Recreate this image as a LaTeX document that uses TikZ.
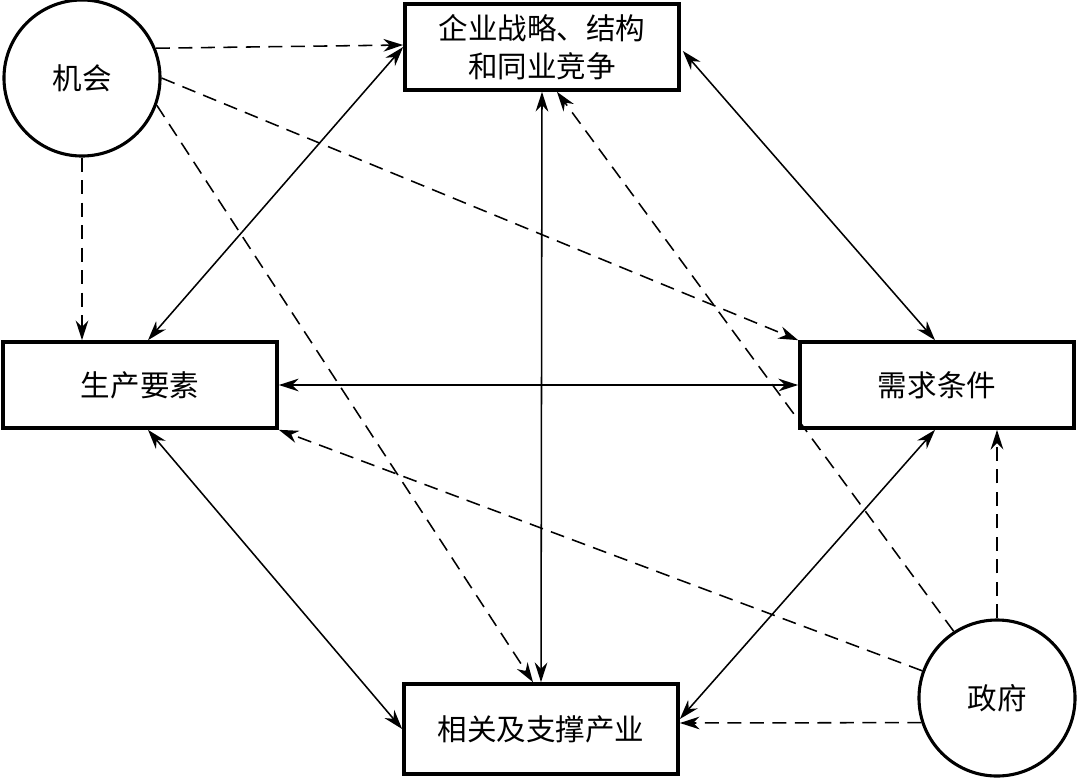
\documentclass[tikz,border=0pt]{standalone}
\usepackage{fontspec}
\setmainfont{Noto Sans CJK SC}
\usetikzlibrary{arrows.meta,calc}
\begin{document}
\begin{tikzpicture}[x=0.025cm,y=-0.025cm,
  box/.style={draw,line width=2.6pt,minimum width=6.85cm,minimum height=2.15cm,inner sep=0pt,align=center,font=\fontsize{21pt}{27pt}\selectfont},
  ring/.style={draw,circle,line width=2.2pt,minimum size=3.9cm,inner sep=0pt,font=\fontsize{21pt}{27pt}\selectfont},
  both/.style={line width=1.1pt,{Stealth[length=14pt,width=9pt,inset=4.5pt]}-{Stealth[length=14pt,width=9pt,inset=4.5pt]}},
  dashar/.style={line width=1.1pt,dash pattern=on 10pt off 6pt,-{Stealth[length=14pt,width=9pt,inset=4.5pt]}}]
\useasboundingbox (0,0) rectangle (1079,778);
\node[box] (T) at (542,47) {企业战略、结构\\和同业竞争};
\node[box] (L) at (140,385) {生产要素};
\node[box] (R) at (937,385) {需求条件};
\node[box,minimum height=2.25cm] (B) at (541,729) {相关及支撑产业};
\node[ring] (C) at (82,78) {机会};
\node[ring] (G) at (997,698) {政府};
% solid double arrows
\draw[both] ([xshift=8*0.025cm]L.north) -- (T.west);
\draw[both] (T.south) -- (B.north);
\draw[both] ([xshift=2*0.025cm,yshift=-4*0.025cm]T.east) -- ([xshift=-2*0.025cm]R.north);
\draw[both] (L.east) -- (R.west);
\draw[both] ([xshift=8*0.025cm]L.south) -- (B.west);
\draw[both] ([xshift=-2*0.025cm]R.south) -- ([yshift=10*0.025cm]B.east);
% dashed from chance
\draw[dashar] (C.22) -- ([yshift=2*0.025cm]T.west);
\draw[dashar] (C.east) -- (R.north west);
\draw[dashar] (C.-20) -- ([xshift=-8*0.025cm]B.north);
\draw[dashar] (C.south) -- (C.south |- L.north);
% dashed from government
\draw[dashar] (G.north) -- (G.north |- R.south);
\draw[dashar] (G.123) -- ([xshift=15*0.025cm]T.south);
\draw[dashar] (G.160) -- (L.south east);
\draw[dashar] (G.198.2) -- ([yshift=6*0.025cm]B.east);
\end{tikzpicture}
\end{document}
